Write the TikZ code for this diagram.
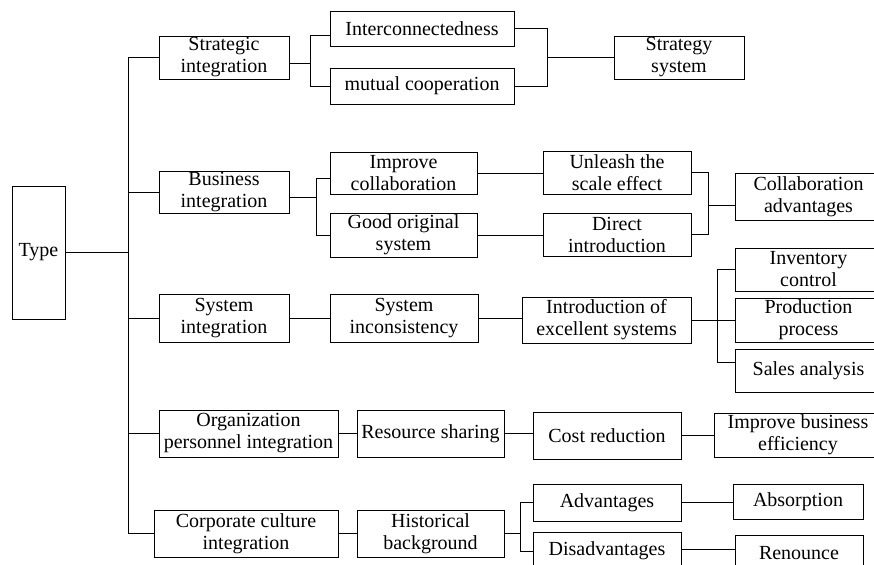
\documentclass[tikz,border=0pt]{standalone}
\usepackage{fontspec}
\setmainfont{Liberation Serif}
\tikzset{
  blk/.style={draw,line width=0.9pt,align=center,inner sep=0pt,font=\fontsize{20}{22}\selectfont},
  lnk/.style={line width=0.9pt}
}
\begin{document}
\begin{tikzpicture}[x=1pt,y=-1pt]
\useasboundingbox (0,0) rectangle (874,564);
\clip (0,0) rectangle (874,564);

% root
\node[blk,minimum width=53pt,minimum height=133pt] (type) at (38.5,252.5) {Type};
\coordinate (trunk) at (128,0);

% first column
\node[blk,minimum width=130pt,minimum height=43pt] (strat) at (224,57.5) {Strategic\\integration};
\node[blk,minimum width=130pt,minimum height=42pt] (busi) at (224,192) {Business\\integration};
\node[blk,minimum width=130pt,minimum height=48pt] (sysi) at (224,318) {System\\integration};
\node[blk,minimum width=179pt,minimum height=47pt] (org) at (248.5,433.5) {Organization\\personnel integration};
\node[blk,minimum width=184pt,minimum height=47pt] (corp) at (246,533.5) {Corporate culture\\integration};

% strategic branch
\node[blk,minimum width=184pt,minimum height=35pt] (ic) at (422,28.5) {Interconnectedness};
\node[blk,minimum width=184pt,minimum height=36pt] (mc) at (422,86) {mutual cooperation};
\node[blk,minimum width=130pt,minimum height=43pt] (ss) at (679,57.5) {Strategy\\system};

% business branch
\node[blk,minimum width=147pt,minimum height=42pt] (impc) at (403.5,173) {Improve\\collaboration};
\node[blk,minimum width=147pt,minimum height=44pt] (gos) at (403.5,235) {Good original\\system};
\node[blk,minimum width=148pt,minimum height=43pt] (ulse) at (617,172.5) {Unleash the\\scale effect};
\node[blk,minimum width=148pt,minimum height=43pt] (di) at (617,234.5) {Direct\\introduction};
\node[blk,minimum width=147pt,minimum height=47pt] (ca) at (808.5,196.5) {Collaboration\\advantages};

% system branch
\node[blk,minimum width=148pt,minimum height=48pt] (sinc) at (404,318) {System\\inconsistency};
\node[blk,minimum width=169pt,minimum height=46pt] (ies) at (606.5,320) {Introduction of\\excellent systems};
\node[blk,minimum width=147pt,minimum height=43pt] (inv) at (808.5,269.5) {Inventory\\control};
\node[blk,minimum width=147pt,minimum height=44pt] (pp) at (808.5,320) {Production\\process};
\node[blk,minimum width=147pt,minimum height=43pt] (sa) at (808.5,370.5) {Sales analysis};

% organization branch
\node[blk,minimum width=147pt,minimum height=47pt] (rs) at (430.5,433.5) {Resource sharing};
\node[blk,minimum width=148pt,minimum height=47pt] (cr) at (607,435.5) {Cost reduction};
\node[blk,minimum width=168pt,minimum height=44pt] (ibe) at (798,435) {Improve business\\efficiency};

% culture branch
\node[blk,minimum width=147pt,minimum height=47pt] (hb) at (430.5,533.5) {Historical\\background};
\node[blk,minimum width=148pt,minimum height=37pt] (adv) at (607,502.5) {Advantages};
\node[blk,minimum width=148pt,minimum height=37pt] (dis) at (607,551) {Disadvantages};
\node[blk,minimum width=130pt,minimum height=35pt] (abs) at (798,501.5) {Absorption};
\node[blk,minimum width=128pt,minimum height=37pt] (ren) at (799,553.5) {Renounce};

% trunk
\draw[lnk] (type.east) -- (type.east -| trunk);
\draw[lnk] (trunk |- strat.west) -- (trunk |- corp.west);
\draw[lnk] (trunk |- strat.west) -- (strat.west);
\draw[lnk] (trunk |- busi.west) -- (busi.west);
\draw[lnk] (trunk |- sysi.west) -- (sysi.west);
\draw[lnk] (trunk |- org.west) -- (org.west);
\draw[lnk] (trunk |- corp.west) -- (corp.west);

% strategic links
\draw[lnk] ([yshift=-6pt]strat.east) -- +(21,0) |- ([yshift=-7pt]ic.west);
\draw[lnk] ([yshift=-6pt]strat.east) -- +(21,0) |- (mc.west);
\draw[lnk] (ic.east) -- +(33,0) |- (ss.west);
\draw[lnk] (mc.east) -- +(33,0) |- (ss.west);

% business links
\draw[lnk] ([yshift=-5pt]busi.east) -- +(27,0) |- ([yshift=-5pt]impc.west);
\draw[lnk] ([yshift=-5pt]busi.east) -- +(27,0) |- (gos.west);
\draw[lnk] (impc.east) -- (impc.east -| ulse.west);
\draw[lnk] (gos.east) -- (gos.east -| di.west);
\draw[lnk] (ulse.east) -- +(17,0) |- ([yshift=-9pt]ca.west);
\draw[lnk] (di.east) -- +(17,0) |- ([yshift=-9pt]ca.west);

% system links
\draw[lnk] (sysi.east) -- (sinc.west);
\draw[lnk] (sinc.east) -- (sinc.east -| ies.west);
\draw[lnk] (ies.east) -- +(26,0) |- (inv.west);
\draw[lnk] (ies.east) -- (ies.east -| pp.west);
\draw[lnk] (ies.east) -- +(26,0) |- ([yshift=8pt]sa.west);

% organization links
\draw[lnk] (org.east) -- (org.east -| rs.west);
\draw[lnk] (rs.east) -- (rs.east -| cr.west);
\draw[lnk] (cr.east) -- (cr.east -| ibe.west);

% culture links
\draw[lnk] (corp.east) -- (corp.east -| hb.west);
\draw[lnk] (hb.east) -- +(16,0) |- (adv.west);
\draw[lnk] (hb.east) -- +(16,0) |- (dis.west);
\draw[lnk] (adv.east) -- (adv.east -| abs.west);
\draw[lnk] ([yshift=2pt]dis.east) -- ([yshift=2pt]dis.east -| ren.west);

\end{tikzpicture}
\end{document}
